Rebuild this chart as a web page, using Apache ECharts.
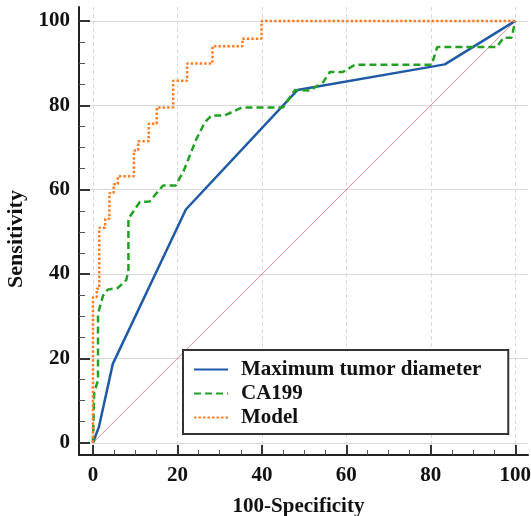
<!DOCTYPE html>
<html><head><meta charset="utf-8">
<script src="https://cdn.jsdelivr.net/npm/echarts@6/dist/echarts.min.js"></script>
<style>html,body{margin:0;padding:0;background:#fff}#c{width:531px;height:516px}</style>
</head><body><div id="c"></div>
<script>
const xMajorTicks = [0, 20, 40, 60, 80, 100];
const yMajorTicks = [0, 20, 40, 60, 80, 100];
const xMinorTicks = [5, 10, 15, 25, 30, 35, 45, 50, 55, 65, 70, 75, 85, 90, 95];
const yMinorTicks = [5, 10, 15, 25, 30, 35, 45, 50, 55, 65, 70, 75, 85, 90, 95];
const seriesNames = ['Maximum tumor diameter', 'CA199', 'Model'];

const tumorDiameter = [[0,0],[1.4,3.7],[4.7,18.7],[22,55.3],[48.4,83.6],[83.3,89.7],[100,100]];
const ca199 = [[0,0],[0.3,12],[1.2,14.8],[1.2,30.6],[2.4,34.9],[3.5,36.3],[5.9,36.7],[7.9,38.6],[8.4,41],[8.4,53.1],
  [11.1,57.1],[13.4,57.2],[16.6,61],[19.6,61],[21.5,64.5],[24.5,72],[26.5,76],[28.1,77.6],[31.2,77.6],[35.3,79.5],
  [45,79.5],[47.8,83.6],[51.4,83.5],[54.5,85.5],[56.1,87.9],[59.2,87.9],[62,89.6],[80.2,89.6],[81.5,93.8],
  [95.6,93.8],[97.2,96],[99.1,96],[100,100]];
const model = [[0,0],[0,34.5],[0.9,34.5],[0.9,36.5],[1.5,36.5],[1.5,51],[2.9,51],[2.9,53.1],[3.9,53.1],[3.9,59.2],
  [4.9,59.2],[4.9,61.3],[5.9,61.3],[5.9,63.2],[9.7,63.2],[9.7,69.3],[10.7,69.3],[10.7,71.5],[13.2,71.5],[13.2,75.6],
  [15.1,75.6],[15.1,79.5],[19,79.5],[19,85.8],[22.3,85.8],[22.3,89.9],[28.3,89.9],[28.3,94],[35.4,94],[35.4,95.8],
  [39.9,95.8],[39.9,100],[100,100]];
const reference = [[0,0],[100,100]];

const font = '"Liberation Serif", "Times New Roman", serif';
const txt = {fontFamily: font, fontWeight: 'bold', color: '#111'};
const X_MIN = -3.3, X_MAX = 103, Y_MIN = -2.9, Y_MAX = 103.3;

const chart = echarts.init(document.getElementById('c'), null, {renderer: 'canvas'});
chart.setOption({
  animation: false,
  backgroundColor: '#fff',
  grid: {left: 79, right: 3, top: 7, bottom: 61, containLabel: false, outerBoundsMode: 'none'},
  xAxis: [
    {type: 'value', min: X_MIN, max: X_MAX, position: 'bottom',
     axisLine: {show: true, onZero: false, lineStyle: {color: '#222', width: 2}},
     axisTick: {show: true, inside: true, length: 10, customValues: xMajorTicks, lineStyle: {color: '#333', width: 2}},
     axisLabel: Object.assign({customValues: xMajorTicks, margin: 10, fontSize: 21}, txt),
     splitLine: {show: true, lineStyle: {color: '#d9d9d9', type: [4, 3], width: 1}},
     name: '100-Specificity', nameLocation: 'middle', nameGap: 41,
     nameTextStyle: Object.assign({fontSize: 21, padding: [0, 10, 0, 0]}, txt)},
    {type: 'value', min: X_MIN, max: X_MAX, position: 'bottom',
     axisLine: {show: false, onZero: false},
     axisTick: {show: true, inside: true, length: 5, customValues: xMinorTicks, lineStyle: {color: '#555', width: 1}},
     axisLabel: {show: false}, splitLine: {show: false}}
  ],
  yAxis: [
    {type: 'value', min: Y_MIN, max: Y_MAX, position: 'left',
     axisLine: {show: true, onZero: false, lineStyle: {color: '#222', width: 2}},
     axisTick: {show: true, inside: true, length: 11, customValues: yMajorTicks, lineStyle: {color: '#333', width: 2}},
     axisLabel: Object.assign({customValues: yMajorTicks, margin: 9, fontSize: 21}, txt),
     splitLine: {show: true, lineStyle: {color: '#d9d9d9', type: 'solid', width: 1}},
     name: 'Sensitivity', nameLocation: 'middle', nameGap: 50,
     nameTextStyle: Object.assign({fontSize: 22, padding: [0, 16, 0, 0]}, txt)},
    {type: 'value', min: Y_MIN, max: Y_MAX, position: 'left',
     axisLine: {show: false, onZero: false},
     axisTick: {show: true, inside: true, length: 6, customValues: yMinorTicks, lineStyle: {color: '#555', width: 1}},
     axisLabel: {show: false}, splitLine: {show: false}}
  ],
  legend: {
    orient: 'vertical', left: 183, top: 350, data: seriesNames,
    itemWidth: 34, itemHeight: 14, itemGap: 3,
    padding: [9, 27, 6, 10],
    backgroundColor: '#fff', borderColor: '#333', borderWidth: 2,
    selectedMode: false,
    itemStyle: {color: 'transparent', borderColor: 'transparent', borderWidth: 0, opacity: 0},
    textStyle: Object.assign({fontSize: 21, padding: [0, 0, 0, 8]}, txt)
  },
  series: [
    {name: 'ref', type: 'line', data: reference, symbol: 'none', z: 1,
     lineStyle: {color: '#d98c8c', width: 1}, silent: true},
    {name: seriesNames[0], type: 'line', data: tumorDiameter, symbol: 'none', z: 3,
     lineStyle: {color: '#1f5aa6', width: 2.5}, itemStyle: {color: '#1f5aa6'}},
    {name: seriesNames[1], type: 'line', data: ca199, symbol: 'none', z: 4,
     lineStyle: {color: '#22a022', width: 2.5, type: [7, 4]}, itemStyle: {color: '#22a022'}},
    {name: seriesNames[2], type: 'line', data: model, symbol: 'none', z: 5,
     lineStyle: {color: '#ff7f27', width: 2.5, type: [2.5, 2]}, itemStyle: {color: '#ff7f27'}}
  ]
});
</script></body></html>
